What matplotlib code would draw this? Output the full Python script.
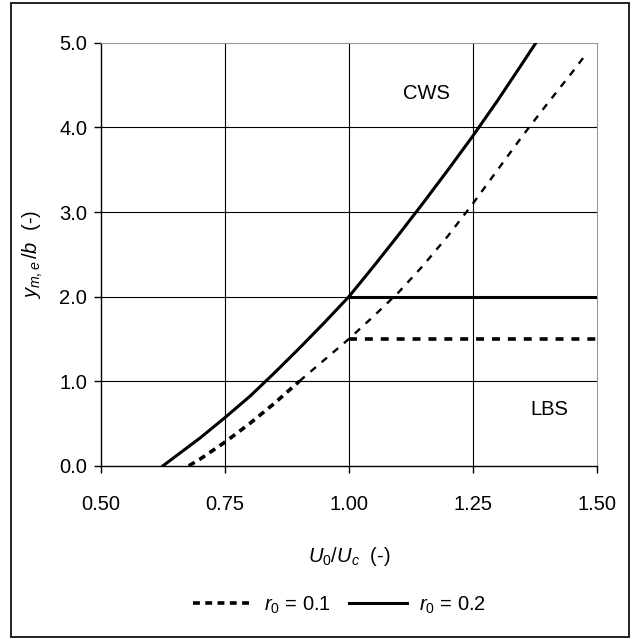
import matplotlib.pyplot as plt
from matplotlib.patches import Rectangle

plt.rcParams["font.family"] = ["Liberation Sans", "DejaVu Sans"]
plt.rcParams["mathtext.fontset"] = "custom"
plt.rcParams["mathtext.rm"] = "Liberation Sans"
plt.rcParams["mathtext.it"] = "Liberation Sans:italic"

# r0 = 0.2 (solid)
u_02 = [0.625, 0.65, 0.70, 0.75, 0.80, 0.85, 0.90, 0.95, 1.00, 1.05,
        1.10, 1.15, 1.20, 1.25, 1.30, 1.35, 1.377]
y_02 = [0.0, 0.11, 0.33, 0.57, 0.82, 1.10, 1.39, 1.69, 2.00, 2.36,
        2.73, 3.11, 3.50, 3.90, 4.32, 4.76, 5.00]
u_02_lbs = [1.0, 1.5]
y_02_lbs = [2.0, 2.0]

# r0 = 0.1 (dashed)
u_01_low = [0.677, 0.70, 0.75, 0.80, 0.85, 0.90]
y_01_low = [0.0, 0.08, 0.28, 0.50, 0.74, 1.00]
u_01 = [0.90, 0.95, 1.00, 1.05, 1.10, 1.15, 1.20, 1.25, 1.30, 1.35,
        1.40, 1.45, 1.48]
y_01 = [1.00, 1.25, 1.50, 1.77, 2.05, 2.37, 2.72, 3.10, 3.50, 3.90,
        4.28, 4.65, 4.88]
u_01_lbs = [1.0, 1.5]
y_01_lbs = [1.5, 1.5]

xticks = [0.50, 0.75, 1.00, 1.25, 1.50]
yticks = [0.0, 1.0, 2.0, 3.0, 4.0, 5.0]

fs = 14.5

fig = plt.figure(figsize=(6.35, 6.39), dpi=100)
ax = fig.add_axes([0.159, 0.271, 0.781, 0.662])

fig.patches.append(Rectangle((11 / 635, 2 / 639), 618 / 635, 634 / 639,
                             transform=fig.transFigure, fill=False,
                             edgecolor="#222222", linewidth=1.4))

for x in xticks[1:-1]:
    ax.axvline(x, color="black", linewidth=0.8, zorder=1)
for y in yticks[1:-1]:
    ax.axhline(y, color="black", linewidth=0.8, zorder=1)

ax.plot(u_01_low, y_01_low, color="black", linewidth=2.6,
        dashes=(1.9, 1.5), label=r"$r_0$ = 0.1", zorder=3)
ax.plot(u_01, y_01, color="black", linewidth=1.7, dashes=(3.0, 3.2), zorder=3)
ax.plot(u_01_lbs, y_01_lbs, color="black", linewidth=2.6, dashes=(2.2, 2.2), zorder=3)
ax.plot(u_02, y_02, color="black", linewidth=2.2, label=r"$r_0$ = 0.2", zorder=3)
ax.plot(u_02_lbs, y_02_lbs, color="black", linewidth=2.2, zorder=3)

ax.text(1.156, 4.4, "CWS", fontsize=fs, ha="center", va="center")
ax.text(1.405, 0.66, "LBS", fontsize=fs, ha="center", va="center")

ax.set_xlim(0.5, 1.5)
ax.set_ylim(0.0, 5.0)
ax.set_xticks(xticks)
ax.set_xticklabels([f"{v:.2f}" for v in xticks])
ax.set_yticks(yticks)
ax.set_yticklabels([f"{v:.1f}" for v in yticks])
ax.tick_params(direction="out", length=5, width=1, labelsize=fs, pad=5)
ax.tick_params(axis="x", pad=16)
ax.spines["left"].set_linewidth(1.0)
ax.spines["bottom"].set_linewidth(1.0)
ax.spines["top"].set_color("#999999")
ax.spines["right"].set_color("#999999")

ax.set_xlabel(r"$U_0/U_c$  (-)", fontsize=fs, labelpad=22)
ax.set_ylabel(r"$y_{m,e}\,/b$  (-)", fontsize=fs, labelpad=10)

fig.legend(loc="center", bbox_to_anchor=(0.535, 0.053), ncol=2, frameon=False,
           fontsize=fs, handlelength=2.9, columnspacing=0.9, handletextpad=0.6)

fig.savefig("out.png", dpi=100)
